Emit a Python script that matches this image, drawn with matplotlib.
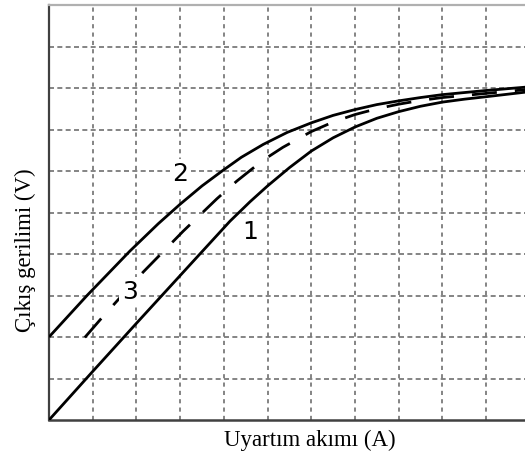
import matplotlib
matplotlib.use("Agg")
import matplotlib.pyplot as plt

# Output voltage vs. excitation current for three generator connections
curve1_x = [0, 1.0, 2.0, 3.0, 3.6, 4.14, 4.6, 5.0, 5.5, 6.0, 6.5, 7.0, 7.5, 8.0, 8.5, 9.0, 9.5, 10.0, 10.9]
curve1_y = [0, 1.17, 2.33, 3.48, 4.17, 4.79, 5.26, 5.64, 6.08, 6.48, 6.8, 7.06, 7.27, 7.43, 7.56, 7.66, 7.73, 7.79, 7.9]

curve2_x = [0, 0.87, 1.85, 2.5, 3.0, 3.5, 3.96, 4.4, 4.9, 5.45, 6.0, 6.5, 7.0, 7.5, 8.0, 8.5, 9.0, 10.0, 10.9]
curve2_y = [2.0, 3.0, 4.07, 4.73, 5.2, 5.64, 6.0, 6.33, 6.64, 6.93, 7.16, 7.34, 7.48, 7.6, 7.69, 7.77, 7.84, 7.94, 8.02]

curve3_x = [0.82, 1.24, 2.15, 3.07, 3.84, 4.3, 4.67, 5.0, 5.35, 6.0, 6.5, 7.0, 7.5, 8.0, 8.5, 9.0, 10.0, 10.9]
curve3_y = [1.99, 2.5, 3.56, 4.55, 5.33, 5.76, 6.07, 6.33, 6.57, 6.95, 7.18, 7.36, 7.5, 7.61, 7.7, 7.77, 7.87, 7.96]

curve_labels = ["1", "2", "3"]
label_pos = [(4.6, 4.55), (3.0, 5.95), (1.85, 3.1)]

x_grid = list(range(1, 11))
y_grid = list(range(1, 10))

fig = plt.figure(figsize=(5.25, 4.52), dpi=100)
ax = fig.add_axes([49 / 525, 31 / 452, 476 / 525, 415 / 452])
ax.set_xlim(0, 10.89)
ax.set_ylim(0, 10)

for gx in x_grid:
    ax.axvline(gx, color="#707070", lw=1.2, linestyle=(0, (2.5, 2.5)), zorder=1)
for gy in y_grid:
    ax.axhline(gy, color="#707070", lw=1.2, linestyle=(0, (3, 2)), zorder=1)

ax.plot(curve1_x, curve1_y, color="black", lw=2.0, solid_capstyle="butt",
        solid_joinstyle="round", zorder=3)
ax.plot(curve2_x, curve2_y, color="black", lw=2.0, solid_capstyle="butt",
        solid_joinstyle="round", zorder=3)
ax.plot(curve3_x, curve3_y, color="black", lw=2.0, linestyle=(0, (9, 6.5)), zorder=3)

for txt, (tx, ty) in zip(curve_labels, label_pos):
    ax.text(tx, ty, txt, fontsize=18, family="DejaVu Sans", ha="center", va="center",
            color="black", zorder=4,
            bbox=dict(boxstyle="square,pad=0.1", facecolor="white", edgecolor="none"))

ax.set_xticks([])
ax.set_yticks([])
ax.spines["right"].set_visible(False)
ax.spines["left"].set_color("#404040")
ax.spines["left"].set_linewidth(1.6)
ax.spines["bottom"].set_color("#404040")
ax.spines["bottom"].set_linewidth(1.8)
ax.spines["top"].set_color("#b0b0b0")
ax.spines["top"].set_linewidth(1.6)

ax.set_xlabel("Uyartım akımı (A)", family="Liberation Serif", fontsize=16.5)
ax.set_ylabel("Çıkış gerilimi (V)", family="Liberation Serif", fontsize=16.5)
ax.xaxis.set_label_coords(0.548, -0.022)
ax.yaxis.set_label_coords(-0.028, 0.412)

fig.savefig("out.png", dpi=100)
